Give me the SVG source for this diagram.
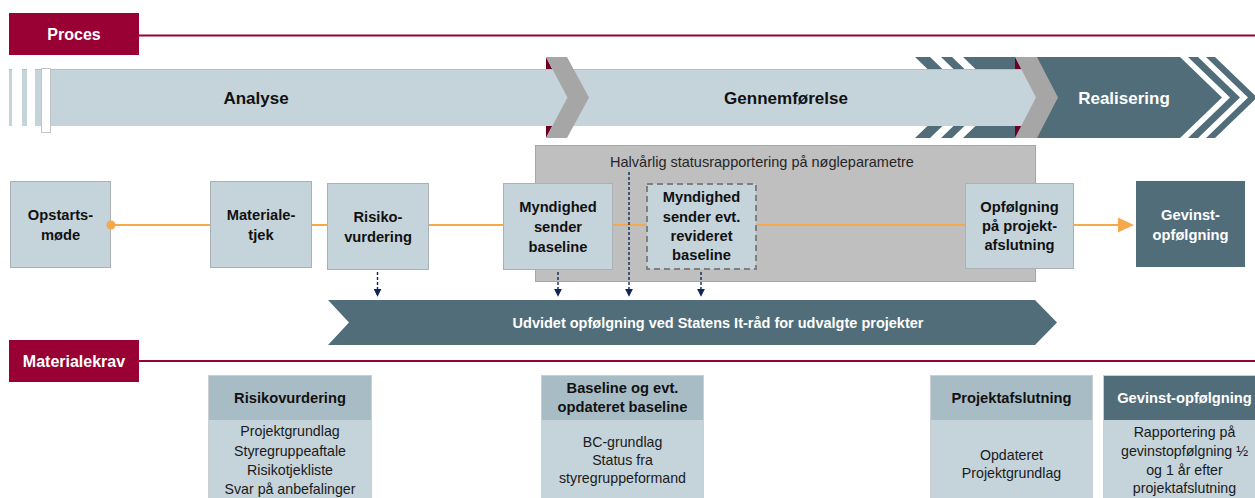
<svg xmlns="http://www.w3.org/2000/svg" width="1255" height="498" viewBox="0 0 1255 498">
<defs>
<style>
.t{font-family:"Liberation Sans",Arial,sans-serif;}
.b{font-family:"Liberation Sans",Arial,sans-serif;font-weight:bold;font-size:14.7px;fill:#111;text-anchor:middle;}
.w{fill:#fff;}
.r{font-family:"Liberation Sans",Arial,sans-serif;font-size:14.2px;fill:#1a1a1a;text-anchor:middle;}
.node{fill:#c5d3da;stroke:#a9b1b5;stroke-width:1;}
.hdr{fill:#a8bcc6;}
.body{fill:#c5d3da;}
.box{fill:none;stroke:#c9cfd2;stroke-width:1;}
.flow{stroke:#f5a94a;stroke-width:2;fill:none;}
.dash{stroke:#0f2557;stroke-width:1.4;stroke-dasharray:3 2;fill:none;}
</style>
<marker id="nav" viewBox="0 0 10 10" refX="9" refY="5" markerWidth="8" markerHeight="8" markerUnits="userSpaceOnUse" orient="auto">
<path d="M0,0 L10,5 L0,10 z" fill="#0f2557"/>
</marker>
</defs>

<!-- Proces header -->
<g id="proces-tab">
<rect x="9" y="13" width="130" height="42" fill="#990033"/>
<line x1="139" y1="35.5" x2="1255" y2="35.5" stroke="#990033" stroke-width="2"/>
<text x="74" y="39.5" class="b w" style="font-size:16px">Proces</text>
</g>

<!-- Phase bar -->
<g id="phase-bar">
<polygon points="915,57 1215,57 1257,97.5 1215,138 915,138 957,97.5" fill="#506d79"/>
<polygon points="930,57 941,57 983,97.5 941,138 930,138 972,97.5" fill="#fff"/>
<polygon points="952,57 963,57 1005,97.5 963,138 952,138 994,97.5" fill="#fff"/>
<polygon points="1180,57 1188,57 1230,97.5 1188,138 1180,138 1222,97.5" fill="#fff"/>
<polygon points="1198,57 1206,57 1248,97.5 1206,138 1198,138 1240,97.5" fill="#fff"/>
<rect x="9" y="69" width="1028" height="57" fill="#c5d3da"/>
<line x1="9" y1="69.5" x2="1037" y2="69.5" stroke="#b5bfc4" stroke-width="1"/>
<rect x="12" y="69" width="10" height="57" fill="#fff"/>
<rect x="27" y="69" width="8" height="57" fill="#fff"/>
<rect x="41.5" y="68.5" width="9" height="64" fill="#fff" stroke="#c0c4c6" stroke-width="1"/>
<polygon points="546,57 546,69 552.2,69" fill="#6b0022"/>
<polygon points="546,126 552.2,126 546,138" fill="#6b0022"/>
<polygon points="1015,57 1015,69 1021.3,69" fill="#6b0022"/>
<polygon points="1015,126 1021.3,126 1015,138" fill="#6b0022"/>
<polygon points="546,57 567,57 589,97.5 567,138 546,138 567.5,97.5" fill="#a6a6a6"/>
<polygon points="1015,57 1037,57 1058,97.5 1037,138 1015,138 1036,97.5" fill="#a6a6a6"/>
<text x="256" y="104" class="b" style="font-size:17px">Analyse</text>
<text x="786" y="104" class="b" style="font-size:17px">Gennemførelse</text>
<text x="1124" y="104" class="b w" style="font-size:17px">Realisering</text>
</g>

<!-- Status box -->
<g id="status-box">
<rect x="535.5" y="145.5" width="500" height="136" fill="#bfbfbf" stroke="#a6a6a6" stroke-width="1"/>
<text x="762" y="167" class="t" style="font-size:14.5px;fill:#262626;text-anchor:middle">Halvårlig statusrapportering på nøgleparametre</text>
</g>

<!-- Nodes -->
<g id="n-opstart">
<rect x="10.5" y="181.5" width="100" height="86" class="node"/>
<text x="60.5" y="220" class="b">Opstarts-</text>
<text x="60.5" y="240" class="b">møde</text>
</g>
<g id="n-materiale">
<rect x="210.5" y="181.5" width="101" height="86" class="node"/>
<text x="261" y="220" class="b">Materiale-</text>
<text x="261" y="240" class="b">tjek</text>
</g>
<g id="n-risiko">
<rect x="327.5" y="183.5" width="101" height="86" class="node"/>
<text x="378" y="222" class="b">Risiko-</text>
<text x="378" y="242" class="b">vurdering</text>
</g>
<g id="n-baseline">
<rect x="503.5" y="183.5" width="109" height="86" class="node"/>
<text x="558" y="212" class="b">Myndighed</text>
<text x="558" y="232" class="b">sender</text>
<text x="558" y="252" class="b">baseline</text>
</g>
<g id="n-revideret">
<rect x="647" y="184" width="109" height="85" fill="#c5d3da" stroke="#7f7f7f" stroke-width="2" stroke-dasharray="6 4"/>
<text x="701.5" y="202" class="b">Myndighed</text>
<text x="701.5" y="222" class="b">sender evt.</text>
<text x="701.5" y="241" class="b">revideret</text>
<text x="701.5" y="260" class="b">baseline</text>
</g>
<g id="n-afslutning">
<rect x="965.5" y="183.5" width="108" height="85" class="node"/>
<text x="1019.5" y="212" class="b">Opfølgning</text>
<text x="1019.5" y="231" class="b">på projekt-</text>
<text x="1019.5" y="250" class="b">afslutning</text>
</g>
<g id="n-gevinst">
<rect x="1136" y="181" width="109" height="86" fill="#506d79"/>
<text x="1190.5" y="220" class="b w">Gevinst-</text>
<text x="1190.5" y="240" class="b w">opfølgning</text>
</g>

<!-- Connectors -->
<g id="connectors">
<line x1="111" y1="225" x2="210" y2="225" class="flow"/>
<line x1="312" y1="225" x2="327" y2="225" class="flow"/>
<line x1="429" y1="225" x2="503" y2="225" class="flow"/>
<line x1="613" y1="225" x2="646" y2="225" class="flow"/>
<line x1="757" y1="225" x2="965" y2="225" class="flow"/>
<line x1="1074" y1="225" x2="1120" y2="225" class="flow"/>
<circle cx="111" cy="225" r="4.5" fill="#f5a94a"/>
<polygon points="1118,217.5 1134,225 1118,232.5" fill="#f5a94a"/>
<line x1="377.5" y1="272" x2="377.5" y2="296" class="dash" marker-end="url(#nav)"/>
<line x1="558" y1="272" x2="558" y2="296" class="dash" marker-end="url(#nav)"/>
<line x1="629" y1="172" x2="629" y2="296" class="dash" marker-end="url(#nav)"/>
<line x1="701" y1="272" x2="701" y2="296" class="dash" marker-end="url(#nav)"/>
</g>

<!-- Banner -->
<g id="banner">
<polygon points="328,300 1035,300 1057,322.5 1035,345 328,345 349,322.5" fill="#506d79"/>
<text x="718" y="327.5" class="b w" style="font-size:14.5px">Udvidet opfølgning ved Statens It-råd for udvalgte projekter</text>
</g>

<!-- Materialekrav header -->
<g id="materialekrav-tab">
<rect x="9" y="340" width="130" height="42" fill="#990033"/>
<line x1="139" y1="361" x2="1255" y2="361" stroke="#990033" stroke-width="2"/>
<text x="74" y="366.5" class="b w" style="font-size:16px">Materialekrav</text>
</g>

<!-- Material boxes -->
<g id="m-risiko">
<rect x="208" y="375" width="164" height="45" class="hdr"/>
<rect x="208" y="420" width="164" height="80" class="body"/>
<rect x="208.5" y="375.5" width="163" height="124" class="box"/>
<text x="290" y="402.5" class="b">Risikovurdering</text>
<text x="290" y="436" class="r">Projektgrundlag</text>
<text x="290" y="455.5" class="r">Styregruppeaftale</text>
<text x="290" y="475" class="r">Risikotjekliste</text>
<text x="290" y="494" class="r">Svar på anbefalinger</text>
</g>
<g id="m-baseline">
<rect x="541" y="375" width="163" height="45" class="hdr"/>
<rect x="541" y="420" width="163" height="80" class="body"/>
<rect x="541.5" y="375.5" width="162" height="124" class="box"/>
<text x="622.5" y="393" class="b">Baseline og evt.</text>
<text x="622.5" y="412" class="b">opdateret baseline</text>
<text x="622.5" y="447" class="r">BC-grundlag</text>
<text x="622.5" y="465" class="r">Status fra</text>
<text x="622.5" y="483" class="r">styregruppeformand</text>
</g>
<g id="m-afslutning">
<rect x="930" y="375" width="163" height="45" class="hdr"/>
<rect x="930" y="420" width="163" height="80" class="body"/>
<rect x="930.5" y="375.5" width="162" height="124" class="box"/>
<text x="1011.5" y="403" class="b">Projektafslutning</text>
<text x="1011.5" y="460" class="r">Opdateret</text>
<text x="1011.5" y="478" class="r">Projektgrundlag</text>
</g>
<g id="m-gevinst">
<rect x="1103" y="375" width="163" height="45" fill="#506d79"/>
<rect x="1103" y="420" width="163" height="80" class="body"/>
<rect x="1103.5" y="375.5" width="162" height="124" class="box"/>
<text x="1184.5" y="403" class="b w">Gevinst-opfølgning</text>
<text x="1184.5" y="437" class="r">Rapportering på</text>
<text x="1184.5" y="455.5" class="r">gevinstopfølgning ½</text>
<text x="1184.5" y="475" class="r">og 1 år efter</text>
<text x="1184.5" y="493" class="r">projektafslutning</text>
</g>
</svg>
